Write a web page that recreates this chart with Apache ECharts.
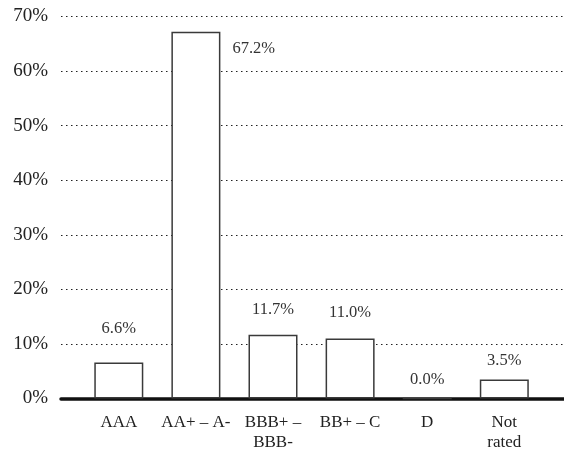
<!DOCTYPE html>
<html>
<head>
<meta charset="utf-8">
<script src="https://cdn.jsdelivr.net/npm/echarts@6/dist/echarts.min.js"></script>
<style>
  html, body { margin: 0; padding: 0; background: #fff; }
  #chart { width: 564px; height: 449px; }
</style>
</head>
<body>
<div id="chart"></div>
<script>
// Rating categories and share of issuance (%)
const categories = ['AAA', 'AA+ – A-', 'BBB+ –\nBBB-', 'BB+ – C', 'D', 'Not\nrated'];
const shares = [6.6, 67.2, 11.7, 11.0, 0.0, 3.5];
const valueLabels = ['6.6%', '67.2%', '11.7%', '11.0%', '0.0%', '3.5%'];
// gap (px) between bar top and its value label
const labelGaps = [25, 0, 16, 17, 10, 10];

const FONT = '"Liberation Serif", "DejaVu Serif", serif';

const data = shares.map((v, i) => {
  const item = { value: v };
  if (i === 1) {
    item.label = {
      position: ['100%', 0],
      offset: [12, 17],
      align: 'left',
      verticalAlign: 'middle'
    };
  } else {
    item.label = { position: 'top', distance: labelGaps[i] };
  }
  return item;
});

const chart = echarts.init(document.getElementById('chart'));
chart.setOption({
  animation: false,
  grid: [
    // full-width frame: dotted gridlines, y labels and baseline
    { left: 61, right: 0, top: 16.5, bottom: 50.5, outerBoundsMode: 'none', containLabel: false },
    // bar area
    { left: 80.25, width: 462.6, top: 16.5, bottom: 50.5, outerBoundsMode: 'none', containLabel: false }
  ],
  xAxis: [
    {
      gridIndex: 0, type: 'value', min: 0, max: 1,
      axisLine: { show: true, onZero: false, lineStyle: { color: '#111', width: 3.5 } },
      axisTick: { show: false }, axisLabel: { show: false }, splitLine: { show: false }
    },
    {
      gridIndex: 1, type: 'category', data: categories,
      axisLine: { show: false }, axisTick: { show: false },
      axisLabel: {
        margin: 14, fontFamily: FONT, fontSize: 17, color: '#222',
        lineHeight: 20, interval: 0
      }
    }
  ],
  yAxis: [
    {
      gridIndex: 0, type: 'value', min: 0, max: 70, interval: 10,
      axisLine: { show: false }, axisTick: { show: false },
      axisLabel: {
        margin: 13, fontFamily: FONT, fontSize: 19, color: '#222',
        formatter: v => v + '%'
      },
      splitLine: { show: true, lineStyle: { color: '#222', width: 1.2, type: [1.5, 3.5] } }
    },
    {
      gridIndex: 1, type: 'value', min: 0, max: 70, show: false
    }
  ],
  series: [{
    type: 'bar',
    xAxisIndex: 1, yAxisIndex: 1,
    barWidth: 49,
    data: data,
    itemStyle: { color: '#fff', borderColor: '#3a3a3a', borderWidth: 1.5 },
    label: {
      show: true, fontFamily: FONT, fontSize: 16.5, color: '#333',
      formatter: p => valueLabels[p.dataIndex]
    },
    z: 1
  }]
});
</script>
</body>
</html>
